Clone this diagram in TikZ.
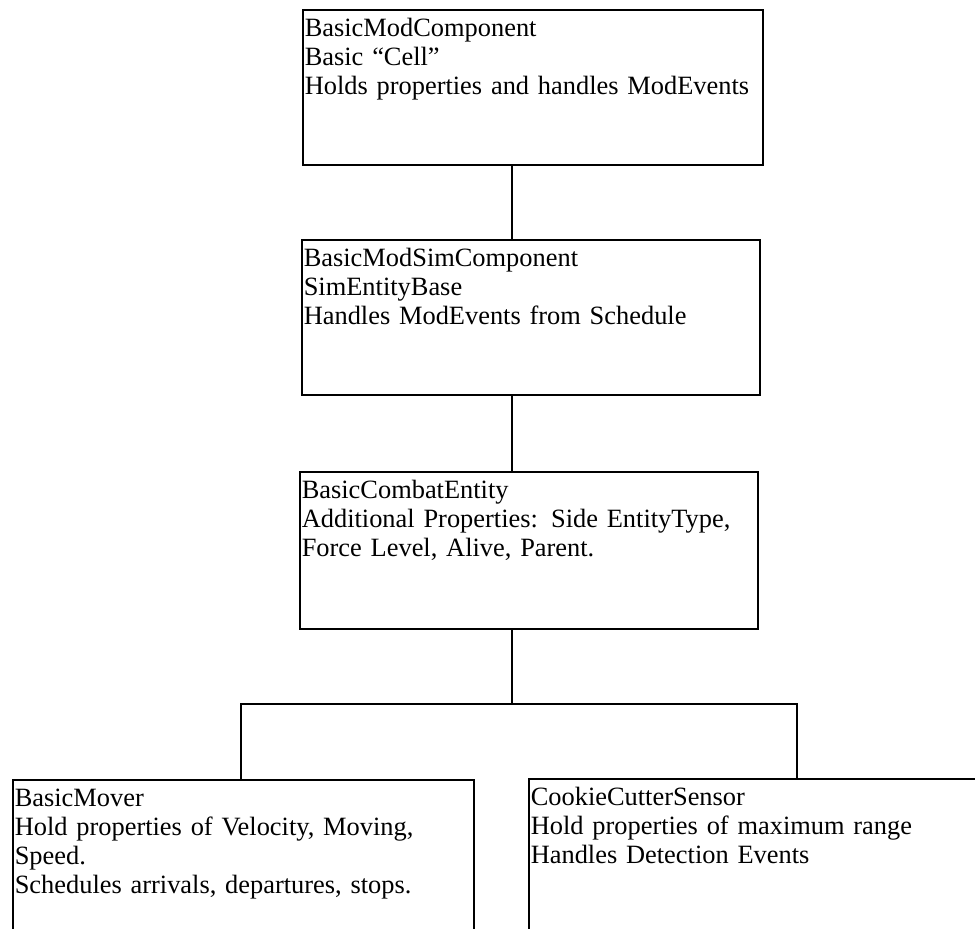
\documentclass[tikz,border=0pt]{standalone}
\usepackage{fontspec}
\setmainfont{Liberation Serif}
\usepackage{tikz}
\usetikzlibrary{calc}

\tikzset{
  classbox/.style={draw, line width=0.8pt, anchor=north west, align=left,
    inner xsep=1pt, inner ysep=0pt, text height=13.5pt,
    font=\fontsize{13.2}{14.4}\selectfont},
  link/.style={line width=0.7pt}
}

\begin{document}
\begin{tikzpicture}[x=0.5pt,y=-0.5pt]
\useasboundingbox (0,0) rectangle (975,928);
\clip (0,0) rectangle (975,928);

\node[classbox, text width=228pt, text depth=64pt] (modcomp) at (302,9)
  {BasicModComponent\\Basic ``Cell''\\Holds properties and handles ModEvents};
\node[classbox, text width=227pt, text depth=64pt] (modsim) at (301,239)
  {BasicModSimComponent\\SimEntityBase\\Handles ModEvents from Schedule};
\node[classbox, text width=227pt, text depth=65pt] (combat) at (299,471)
  {BasicCombatEntity\\Additional Properties: Side EntityType,\\Force Level, Alive, Parent.};

\node[classbox, text width=228.5pt, text depth=70pt] (mover) at (12,779)
  {BasicMover\\Hold properties of Velocity, Moving,\\Speed.\\Schedules arrivals, departures, stops.};
\node[classbox, text width=229pt, text depth=70pt] (sensor) at (528,778)
  {CookieCutterSensor\\Hold properties of maximum range\\Handles Detection Events};

\coordinate (spine) at (512,0);
\coordinate (fork) at (512,704);
\coordinate (dropL) at (241,704);
\coordinate (dropR) at (797,704);

\draw[link] (modcomp.south -| spine) -- (modsim.north -| spine);
\draw[link] (modsim.south -| spine) -- (combat.north -| spine);
\draw[link] (combat.south -| spine) -- (fork);
\draw[link] (mover.north -| dropL) -- (dropL) -- (dropR) -- (sensor.north -| dropR);

\end{tikzpicture}
\end{document}
